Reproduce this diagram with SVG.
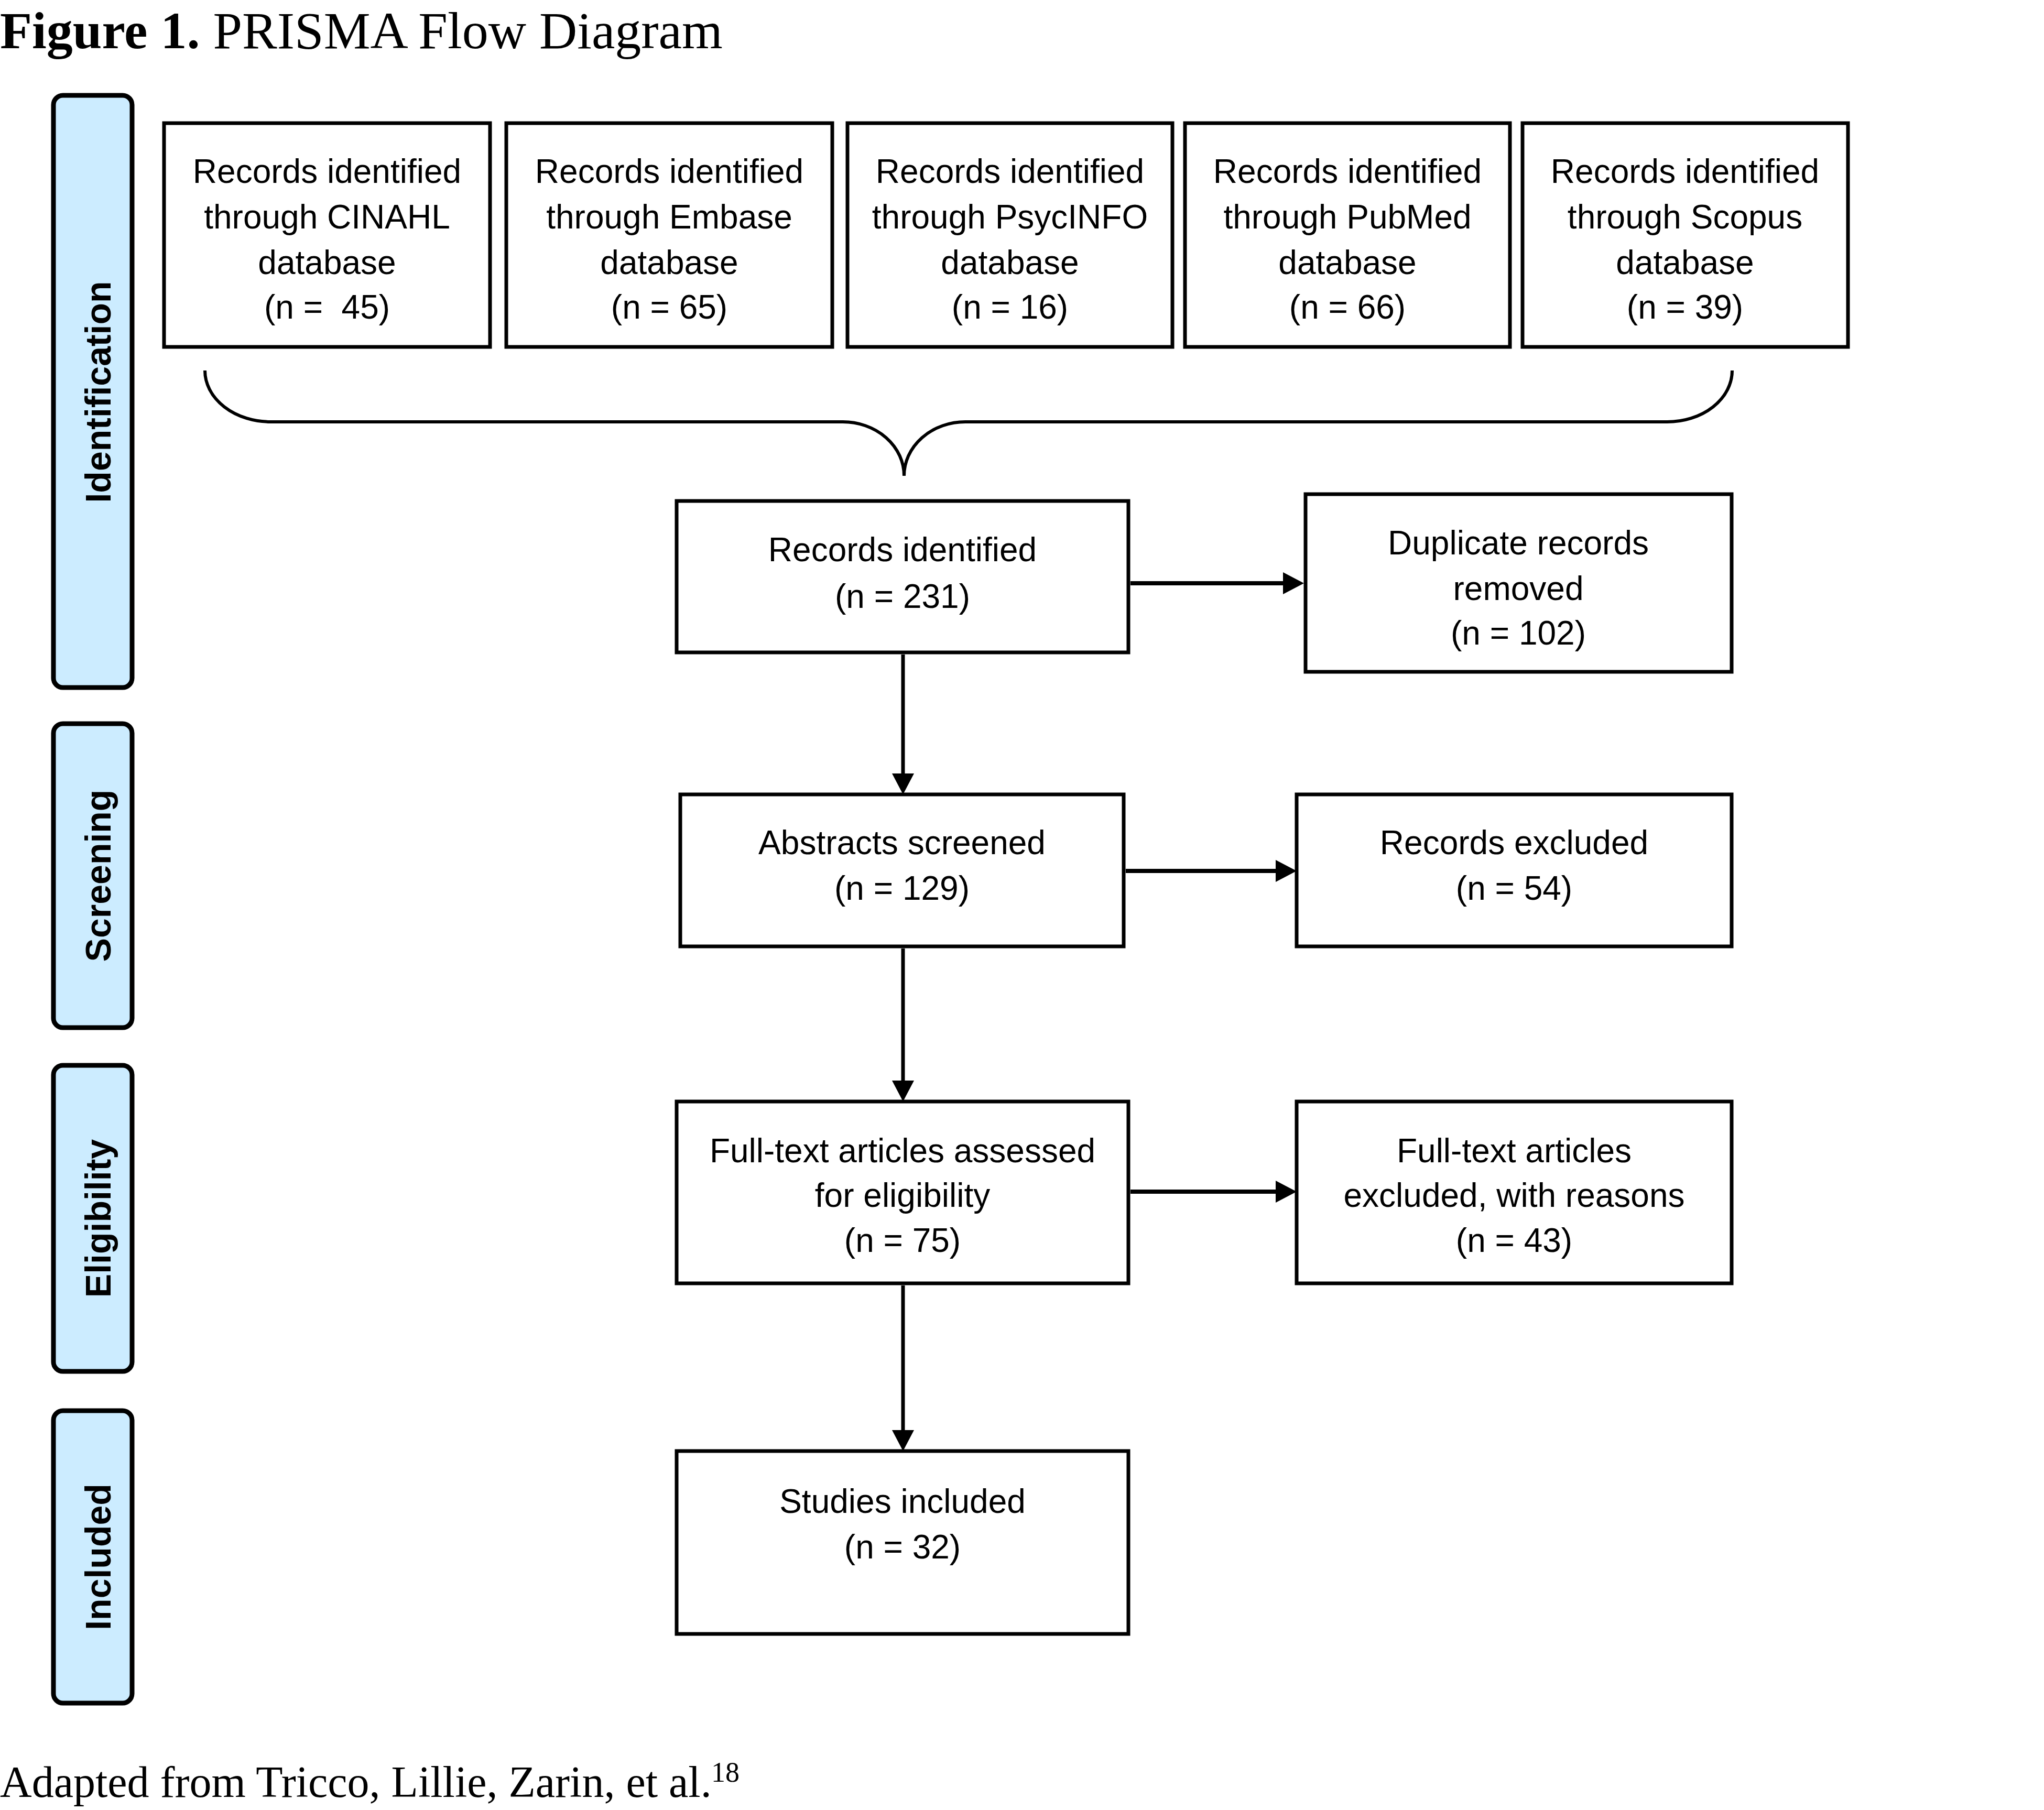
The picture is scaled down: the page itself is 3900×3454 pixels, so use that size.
<svg xmlns="http://www.w3.org/2000/svg" width="3900" height="3454" viewBox="0 0 3900 3454">
<defs>
<style>
.box{fill:#ffffff;stroke:#000000;stroke-width:7}
.panel{fill:#CCECFF;stroke:#000000;stroke-width:9}
.t{font-family:"Liberation Sans",Arial,sans-serif;font-size:64px;fill:#000000;text-anchor:middle}
.pl{font-family:"Liberation Sans",Arial,sans-serif;font-size:68px;font-weight:bold;fill:#000000;text-anchor:middle}
.conn{fill:none;stroke:#000000;stroke-width:7}
.h{stroke-width:8}
.brace{fill:none;stroke:#000000;stroke-width:6}
.serif{font-family:"Liberation Serif","Times New Roman",serif;fill:#000000}
</style>
<marker id="ah" markerUnits="userSpaceOnUse" markerWidth="42" markerHeight="46" refX="20" refY="23" orient="auto">
<path d="M0,2 L40,23 L0,44 Z" fill="#000000"/>
</marker>
</defs>
<rect width="3900" height="3454" fill="#ffffff"/>

<g id="title">
<text class="serif" x="0" y="92" font-size="100"><tspan font-weight="bold">Figure 1.</tspan> PRISMA Flow Diagram</text>
</g>

<g id="panel-identification">
<rect class="panel" x="102" y="182" width="150" height="1130" rx="18" ry="18"/>
<text class="pl" transform="translate(211,748) rotate(-90)">Identification</text>
</g>
<g id="panel-screening">
<rect class="panel" x="102" y="1381" width="150" height="580" rx="18" ry="18"/>
<text class="pl" transform="translate(211,1671) rotate(-90)">Screening</text>
</g>
<g id="panel-eligibility">
<rect class="panel" x="102" y="2033" width="150" height="584" rx="18" ry="18"/>
<text class="pl" transform="translate(211,2325) rotate(-90)">Eligibility</text>
</g>
<g id="panel-included">
<rect class="panel" x="102" y="2692" width="150" height="558" rx="18" ry="18"/>
<text class="pl" transform="translate(211,2971) rotate(-90)">Included</text>
</g>

<g id="node-cinahl">
<rect class="box" x="313" y="235" width="622" height="427"/>
<text class="t" x="624" y="349">Records identified</text>
<text class="t" x="624" y="436">through CINAHL</text>
<text class="t" x="624" y="523">database</text>
<text class="t" x="624" y="608" xml:space="preserve">(n =  45)</text>
</g>
<g id="node-embase">
<rect class="box" x="966" y="235" width="622" height="427"/>
<text class="t" x="1277" y="349">Records identified</text>
<text class="t" x="1277" y="436">through Embase</text>
<text class="t" x="1277" y="523">database</text>
<text class="t" x="1277" y="608">(n = 65)</text>
</g>
<g id="node-psycinfo">
<rect class="box" x="1617" y="235" width="620" height="427"/>
<text class="t" x="1927" y="349">Records identified</text>
<text class="t" x="1927" y="436">through PsycINFO</text>
<text class="t" x="1927" y="523">database</text>
<text class="t" x="1927" y="608">(n = 16)</text>
</g>
<g id="node-pubmed">
<rect class="box" x="2261" y="235" width="620" height="427"/>
<text class="t" x="2571" y="349">Records identified</text>
<text class="t" x="2571" y="436">through PubMed</text>
<text class="t" x="2571" y="523">database</text>
<text class="t" x="2571" y="608">(n = 66)</text>
</g>
<g id="node-scopus">
<rect class="box" x="2905" y="235" width="621" height="427"/>
<text class="t" x="3215" y="349">Records identified</text>
<text class="t" x="3215" y="436">through Scopus</text>
<text class="t" x="3215" y="523">database</text>
<text class="t" x="3215" y="608">(n = 39)</text>
</g>

<g id="node-records-identified">
<rect class="box" x="1291" y="956" width="862" height="289"/>
<text class="t" x="1722" y="1071">Records identified</text>
<text class="t" x="1722" y="1160">(n = 231)</text>
</g>
<g id="node-duplicates">
<rect class="box" x="2491" y="943" width="813" height="339"/>
<text class="t" x="2897" y="1058">Duplicate records</text>
<text class="t" x="2897" y="1145">removed</text>
<text class="t" x="2897" y="1230">(n = 102)</text>
</g>
<g id="node-abstracts">
<rect class="box" x="1298" y="1516" width="846" height="290"/>
<text class="t" x="1721" y="1630">Abstracts screened</text>
<text class="t" x="1721" y="1717">(n = 129)</text>
</g>
<g id="node-records-excluded">
<rect class="box" x="2474" y="1516" width="830" height="290"/>
<text class="t" x="2889" y="1630">Records excluded</text>
<text class="t" x="2889" y="1717">(n = 54)</text>
</g>
<g id="node-fulltext">
<rect class="box" x="1291" y="2102" width="862" height="347"/>
<text class="t" x="1722" y="2218">Full-text articles assessed</text>
<text class="t" x="1722" y="2303">for eligibility</text>
<text class="t" x="1722" y="2389">(n = 75)</text>
</g>
<g id="node-fulltext-excluded">
<rect class="box" x="2474" y="2102" width="830" height="347"/>
<text class="t" x="2889" y="2218">Full-text articles</text>
<text class="t" x="2889" y="2303">excluded, with reasons</text>
<text class="t" x="2889" y="2389">(n = 43)</text>
</g>
<g id="node-studies-included">
<rect class="box" x="1291" y="2769" width="862" height="349"/>
<text class="t" x="1722" y="2887">Studies included</text>
<text class="t" x="1722" y="2974">(n = 32)</text>
</g>

<g id="connectors">
<path class="brace" d="M391,707 A126,98 0 0 0 517,805 L1608,805 A117,103 0 0 1 1725,908 A117,103 0 0 1 1842,805 L3181,805 A124,98 0 0 0 3305,707"/>
<line class="conn h" x1="2157" y1="1113" x2="2468" y2="1113" marker-end="url(#ah)"/>
<line class="conn" x1="1723" y1="1249" x2="1723" y2="1496" marker-end="url(#ah)"/>
<line class="conn h" x1="2148" y1="1662" x2="2454" y2="1662" marker-end="url(#ah)"/>
<line class="conn" x1="1723" y1="1810" x2="1723" y2="2082" marker-end="url(#ah)"/>
<line class="conn h" x1="2157" y1="2274" x2="2454" y2="2274" marker-end="url(#ah)"/>
<line class="conn" x1="1723" y1="2453" x2="1723" y2="2749" marker-end="url(#ah)"/>
</g>

<g id="caption">
<text class="serif" x="0" y="3429" font-size="84">Adapted from Tricco, Lillie, Zarin, et al.</text>
<text class="serif" x="1357" y="3400" font-size="54">18</text>
</g>
</svg>
